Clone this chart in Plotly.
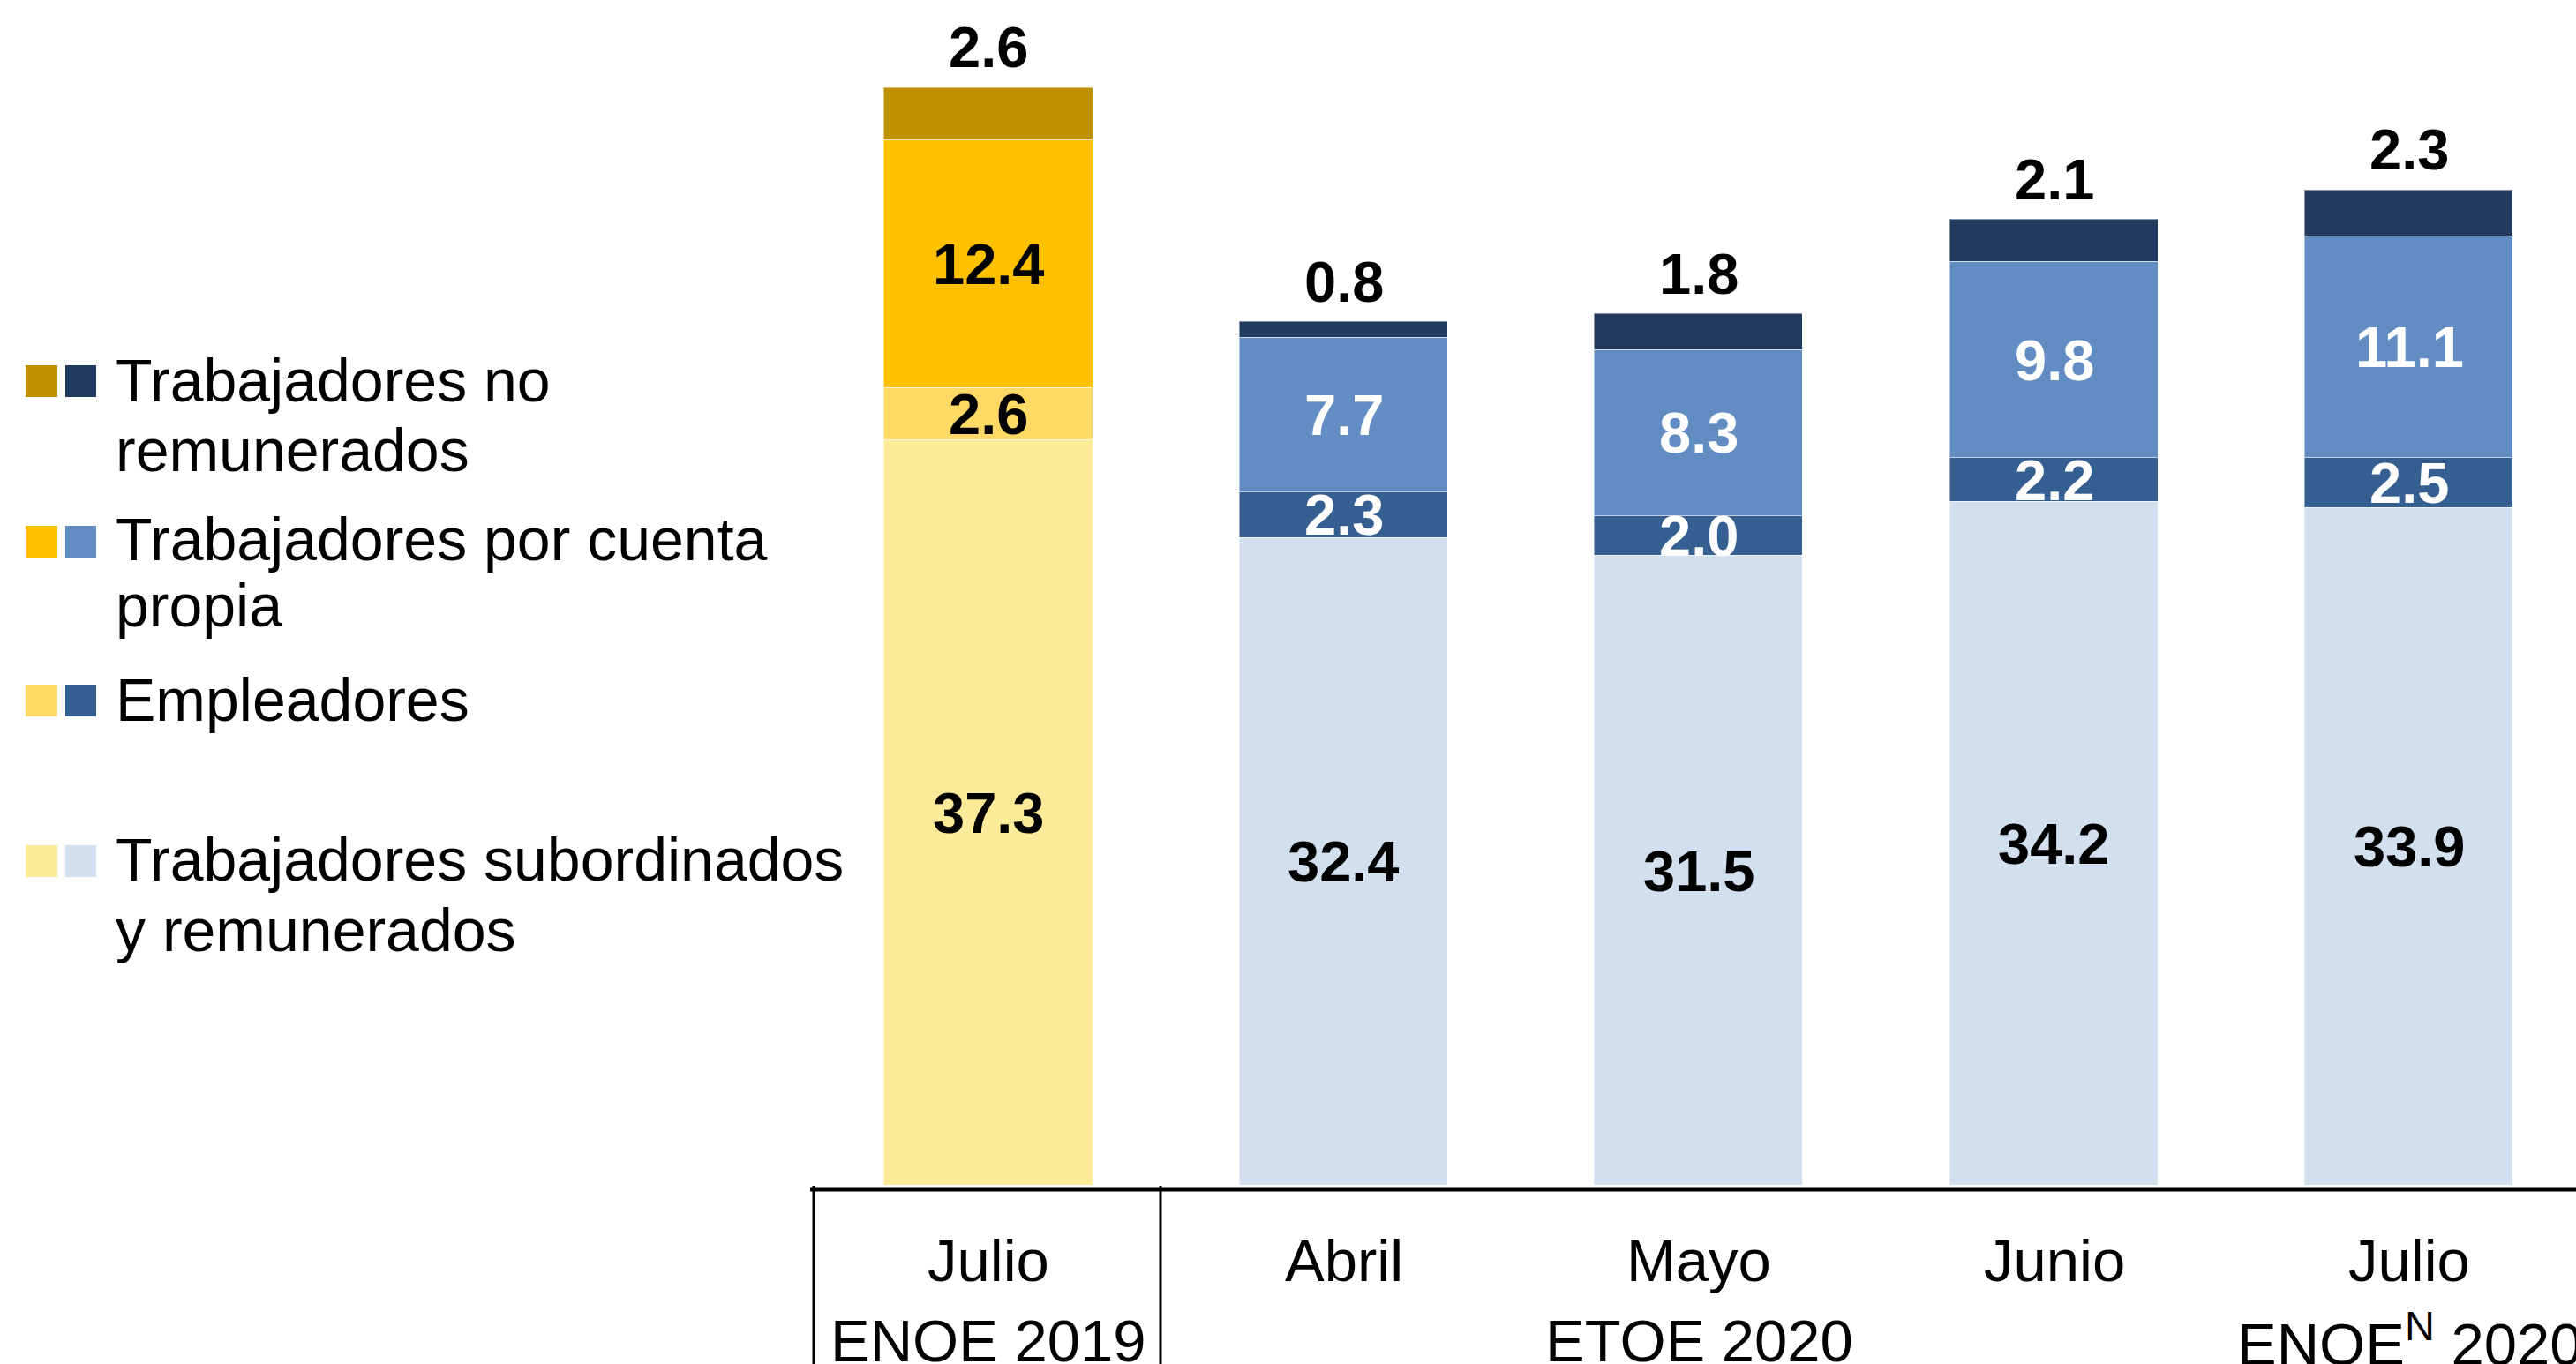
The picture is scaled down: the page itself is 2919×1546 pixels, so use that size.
import plotly.graph_objects as go

# ---------------- data ----------------
months = ["Julio", "Abril", "Mayo", "Junio", "Julio"]
subordinados = [37.3, 32.4, 31.5, 34.2, 33.9]
empleadores = [2.6, 2.3, 2.0, 2.2, 2.5]
cuenta_propia = [12.4, 7.7, 8.3, 9.8, 11.1]
no_remunerados = [2.6, 0.8, 1.8, 2.1, 2.3]

survey_labels = ["ENOE 2019", "ETOE 2020", "ENOE<sup>N</sup> 2020"]
survey_anchor = [0, 2, 4]  # category index under which each survey label is centred

legend_names = [
    ["Trabajadores no", "remunerados"],
    ["Trabajadores por cuenta", "propia"],
    ["Empleadores"],
    ["Trabajadores subordinados", "y remunerados"],
]

# ---------------- styles ----------------
W, H = 2919, 1546
ML, MB, MT, MR = 918, 202, 0, 0
PW, PH = W - ML - MR, H - MT - MB

yellow = {"sub": "#FEEB9A", "emp": "#FFD966", "cp": "#FFC000", "nr": "#BF9000"}
blue = {"sub": "#D1DFEE", "emp": "#365F91", "cp": "#628DC2", "nr": "#223A5E"}
period_is_2019 = [True, False, False, False, False]

def colors(key):
    return [yellow[key] if p else blue[key] for p in period_is_2019]

FONT = "Liberation Sans, Arial, sans-serif"
x = list(range(len(months)))

fig = go.Figure()
series = [
    ("sub", subordinados),
    ("emp", empleadores),
    ("cp", cuenta_propia),
    ("nr", no_remunerados),
]
for key, vals in series:
    fig.add_trace(go.Bar(
        x=x, y=vals, width=0.587,
        marker=dict(color=colors(key), line=dict(width=1.2, color="rgba(255,255,255,0.45)")),
        showlegend=False, hoverinfo="skip",
    ))

annotations = []
# segment labels
base = [0.0] * len(x)
for key, vals in series:
    for i, v in enumerate(vals):
        mid = base[i] + v / 2
        if key == "nr":
            annotations.append(dict(x=i, y=base[i] + v, xref="x", yref="y", text=f"{v:.1f}",
                                    showarrow=False, yanchor="middle", yshift=46,
                                    font=dict(family=FONT, size=65, color="black", weight="bold")))
        else:
            white = (key in ("emp", "cp")) and not period_is_2019[i]
            annotations.append(dict(x=i, y=mid, xref="x", yref="y", text=f"{v:.1f}",
                                    showarrow=False, yanchor="middle",
                                    font=dict(family=FONT, size=65,
                                              color="white" if white else "black", weight="bold")))
        base[i] += v

def py(p):
    return (H - MB - p) / PH

def px(p):
    return (p - ML) / PW

# month labels
for i, m in enumerate(months):
    annotations.append(dict(x=i, y=py(1428), xref="x", yref="paper", text=m, showarrow=False,
                            yanchor="middle", font=dict(family=FONT, size=67, color="black")))
for lab, i in zip(survey_labels, survey_anchor):
    annotations.append(dict(x=i, y=py(1519), xref="x", yref="paper", text=lab, showarrow=False,
                            yanchor="middle", font=dict(family=FONT, size=67, color="black")))

# manual legend (two swatches per item)
shapes = []
legend_keys = ["nr", "cp", "emp", "sub"]
legend_line_centers = [[431, 510], [611, 686], [793], [974, 1054]]
swatch_centers = [432, 614, 794, 976]
for key, names, centers, sc in zip(legend_keys, legend_names, legend_line_centers, swatch_centers):
    for (x0, x1, col) in [(29, 65, yellow[key]), (74, 109, blue[key])]:
        shapes.append(dict(type="rect", xref="paper", yref="paper",
                           x0=px(x0), x1=px(x1), y0=py(sc + 18), y1=py(sc - 18),
                           fillcolor=col, line=dict(width=0), layer="above"))
    for name, c in zip(names, centers):
        annotations.append(dict(x=px(129), y=py(c), xref="paper", yref="paper", text=name,
                                showarrow=False, xanchor="left", yanchor="middle",
                                font=dict(family=FONT, size=68, color="black")))

# baseline and separators
shapes.append(dict(type="line", xref="paper", yref="paper", x0=0, x1=1, y0=py(1348), y1=py(1348),
                   line=dict(color="black", width=5)))
for xp in [922, 1315]:
    shapes.append(dict(type="line", xref="paper", yref="paper", x0=px(xp), x1=px(xp),
                       y0=py(1344), y1=py(1546), line=dict(color="black", width=3)))

fig.update_layout(
    width=W, height=H,
    margin=dict(l=ML, r=MR, t=MT, b=MB, pad=0),
    paper_bgcolor="white", plot_bgcolor="white",
    barmode="stack", bargap=0,
    xaxis=dict(range=[-0.503, 4.469], showticklabels=False, showgrid=False, zeroline=False,
               showline=False, ticks=""),
    yaxis=dict(range=[0, 59.31], visible=False, showgrid=False, zeroline=False),
    annotations=annotations, shapes=shapes,
    showlegend=False,
)

fig.write_html(
    "out.html",
    config={"displayModeBar": False},
    post_script="document.body.style.margin='0px';document.body.style.overflow='hidden';",
)
